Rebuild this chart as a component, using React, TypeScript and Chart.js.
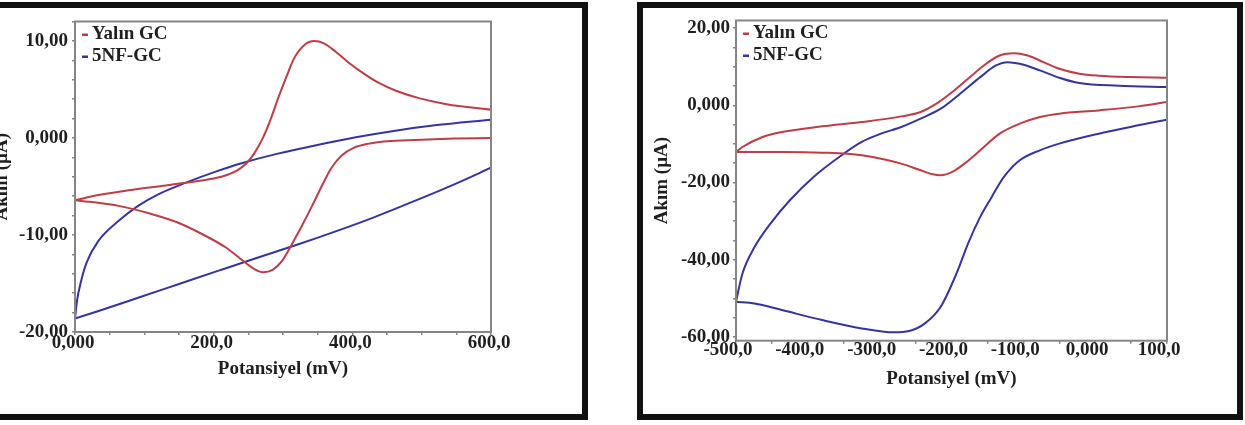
import React, { useEffect, useRef } from 'react';
import { Chart, registerables } from 'chart.js';

Chart.register(...registerables);

const SERIF = '"Liberation Serif", "Times New Roman", serif';
const RED = '#c23b45';
const BLUE = '#3434a2';
const INK = '#1f1f1f';
const AXIS_GRAY = '#858585';

const seriesNames = ['Yalın GC', '5NF-GC'];
const xTitle = 'Potansiyel (mV)';
const yTitle = 'Akım (µA)';

// ---- Left voltammogram: 0 → 600 mV ----
const leftBareFwdE = [0, 34, 80, 131, 177, 211, 234, 248, 259, 271, 282, 293, 305, 316, 331, 345, 359, 376, 393, 416, 439, 462, 496, 536, 600];
const leftBareFwdI = [-6.42, -5.88, -5.36, -4.89, -4.44, -4.0, -3.35, -2.56, -1.54, 0.0, 1.88, 4.1, 6.32, 8.2, 9.57, 9.98, 9.74, 8.88, 7.86, 6.66, 5.64, 4.89, 4.1, 3.48, 2.9];
const leftBareRevE = [600, 547, 490, 450, 422, 402, 385, 370, 356, 342, 328, 313, 299, 285, 271, 256, 239, 217, 188, 148, 108, 63, 28, 0];
const leftBareRevI = [0.0, -0.07, -0.2, -0.34, -0.61, -1.02, -1.78, -3.07, -4.95, -7.0, -8.95, -10.93, -12.64, -13.6, -13.84, -13.39, -12.47, -11.27, -10.08, -8.71, -7.79, -7.0, -6.63, -6.42];
const leftNfFwdE = [0, 3, 9, 17, 34, 63, 91, 120, 160, 205, 239, 291, 348, 405, 462, 519, 600];
const leftNfFwdI = [-18.62, -16.74, -14.69, -12.81, -10.59, -8.54, -7.0, -5.81, -4.61, -3.42, -2.63, -1.64, -0.75, 0.07, 0.75, 1.3, 1.88];
const leftNfRevE = [600, 547, 490, 433, 376, 319, 262, 205, 148, 91, 34, 0];
const leftNfRevI = [-3.07, -4.78, -6.49, -8.13, -9.63, -11.04, -12.37, -13.73, -15.1, -16.47, -17.83, -18.62];

// ---- Right voltammogram: -500 → 100 mV ----
const rightBareFwdE = [-500, -491, -463, -436, -380, -325, -270, -243, -221, -199, -177, -155, -133, -113, -94, -72, -50, -22, 5, 49, 100];
const rightBareFwdI = [-12.08, -10.79, -8.2, -6.9, -5.44, -4.32, -2.85, -1.73, 0.43, 3.45, 6.9, 10.35, 12.94, 13.54, 12.94, 11.21, 9.49, 8.2, 7.68, 7.33, 7.16];
const rightBareRevE = [100, 60, 5, -50, -77, -105, -133, -160, -182, -199, -215, -226, -243, -270, -325, -380, -436, -500];
const rightBareRevI = [0.86, -0.26, -1.3, -2.16, -3.02, -4.75, -7.34, -11.65, -15.1, -17.26, -18.12, -17.86, -16.83, -15.1, -12.94, -12.25, -12.08, -12.08];
const rightNfFwdE = [-500, -491, -474, -452, -425, -392, -353, -325, -298, -270, -243, -215, -188, -160, -138, -122, -105, -77, -50, -22, 33, 100];
const rightNfFwdI = [-50.9, -43.57, -36.67, -30.63, -24.59, -18.55, -12.94, -9.49, -7.34, -5.61, -3.45, -0.86, 3.02, 7.33, 10.35, 11.21, 10.78, 9.06, 7.16, 5.78, 5.09, 4.74];
const rightNfRevE = [100, 60, 5, -50, -77, -105, -127, -144, -160, -177, -193, -215, -237, -259, -281, -325, -380, -436, -474, -500];
const rightNfRevI = [-3.71, -5.18, -7.34, -9.92, -11.65, -14.24, -18.55, -23.73, -28.9, -35.81, -43.57, -52.2, -56.51, -58.5, -58.84, -57.81, -55.65, -53.06, -51.34, -50.9];

// ---- Tick labels ----
const leftXTickValues = [0, 200, 400, 600];
const leftXTickLabels = ['0,000', '200,0', '400,0', '600,0'];
const leftYTickValues = [-20, -10, 0, 10];
const leftYTickLabels = ['-20,00', '-10,00', '0,000', '10,00'];
const rightXTickValues = [-500, -400, -300, -200, -100, 0, 100];
const rightXTickLabels = ['-500,0', '-400,0', '-300,0', '-200,0', '-100,0', '0,000', '100,0'];
const rightYTickValues = [-60, -40, -20, 0, 20];
const rightYTickLabels = ['-60,00', '-40,00', '-20,00', '0,000', '20,00'];

type Branch = { label: string; color: string; e: number[]; i: number[] };

type PanelSpec = {
  branches: Branch[];
  x: { min: number; max: number; step: number; values: number[]; labels: string[]; labelOffset: number; labelPad: number; titlePad: number; height: number };
  y: { min: number; max: number; step: number; values: number[]; labels: string[]; labelPad: number; titlePad: number; width: number };
  padTop: number;
  padRight: number;
};

const leftPanel: PanelSpec = {
  branches: [
    { label: seriesNames[0], color: RED, e: leftBareFwdE, i: leftBareFwdI },
    { label: seriesNames[0], color: RED, e: leftBareRevE, i: leftBareRevI },
    { label: seriesNames[1], color: BLUE, e: leftNfFwdE, i: leftNfFwdI },
    { label: seriesNames[1], color: BLUE, e: leftNfRevE, i: leftNfRevI },
  ],
  x: { min: 0, max: 600, step: 50, values: leftXTickValues, labels: leftXTickLabels, labelOffset: -2, labelPad: -1, titlePad: 33.6, height: 82 },
  y: { min: -20, max: 12, step: 2, values: leftYTickValues, labels: leftYTickLabels, labelPad: 4, titlePad: 4.6, width: 89 },
  padTop: 12,
  padRight: 91,
};

const rightPanel: PanelSpec = {
  branches: [
    { label: seriesNames[0], color: RED, e: rightBareFwdE, i: rightBareFwdI },
    { label: seriesNames[0], color: RED, e: rightBareRevE, i: rightBareRevI },
    { label: seriesNames[1], color: BLUE, e: rightNfFwdE, i: rightNfFwdI },
    { label: seriesNames[1], color: BLUE, e: rightNfRevE, i: rightNfRevI },
  ],
  x: { min: -500, max: 100, step: 50, values: rightXTickValues, labels: rightXTickLabels, labelOffset: -8, labelPad: -3, titlePad: 23.6, height: 73.3 },
  y: { min: -61, max: 22, step: 5, values: rightYTickValues, labels: rightYTickLabels, labelPad: 3, titlePad: 7.6, width: 93 },
  padTop: 12,
  padRight: 70,
};

// Gray box around the plotting area
const plotFrame = {
  id: 'plotFrame',
  afterDatasetsDraw(chart: any) {
    const { ctx, chartArea: a } = chart;
    ctx.save();
    ctx.strokeStyle = AXIS_GRAY;
    ctx.lineWidth = 2;
    ctx.strokeRect(a.left, a.top, a.right - a.left, a.bottom - a.top);
    ctx.restore();
  },
};

// Legend drawn inside the top-left corner of the plot, one row per series
const insideLegend = {
  id: 'insideLegend',
  afterDraw(chart: any) {
    const { ctx, chartArea: a } = chart;
    const seen = new Set<string>();
    const items: { label: string; color: string }[] = [];
    chart.data.datasets.forEach((ds: any) => {
      if (!seen.has(ds.label)) {
        seen.add(ds.label);
        items.push({ label: ds.label, color: ds.borderColor });
      }
    });
    ctx.save();
    ctx.font = `bold 19px ${SERIF}`;
    ctx.textBaseline = 'middle';
    ctx.textAlign = 'left';
    items.forEach((it, k) => {
      const y = a.top + 13 + k * 22;
      ctx.fillStyle = it.color;
      ctx.fillRect(a.left + 7, y - 1, 6, 2.5);
      ctx.fillStyle = INK;
      ctx.fillText(it.label, a.left + 17, y);
    });
    ctx.restore();
  },
};

// Evenly spaced tick marks at every multiple of the step inside the axis range
const stepTicks = (step: number) => (scale: any) => {
  const out: { value: number }[] = [];
  const first = Math.ceil(scale.min / step - 1e-9);
  const last = Math.floor(scale.max / step + 1e-9);
  for (let k = first; k <= last; k++) out.push({ value: k * step });
  scale.ticks = out;
};

const labelFor = (values: number[], labels: string[]) => (v: any) => {
  const k = values.findIndex((x) => Math.abs(x - Number(v)) < 1e-6);
  return k >= 0 ? labels[k] : '';
};

const tickFont = { family: SERIF, size: 19, weight: 'bold' as const, lineHeight: 1 };
const titleFont = { family: SERIF, size: 19, weight: 'bold' as const, lineHeight: 1.2 };
const tickGrid = { display: true, drawOnChartArea: false, drawTicks: true, tickLength: 3, color: AXIS_GRAY, lineWidth: 1.5 };

function CvPanel({ spec, left, top, width, height }: { spec: PanelSpec; left: number; top: number; width: number; height: number }) {
  const ref = useRef<HTMLCanvasElement>(null);

  useEffect(() => {
    if (!ref.current) return;
    const chart = new Chart(ref.current, {
      type: 'scatter',
      data: {
        datasets: spec.branches.map((b) => ({
          label: b.label,
          data: b.e.map((x, k) => ({ x, y: b.i[k] })),
          borderColor: b.color,
          backgroundColor: b.color,
          showLine: true,
          pointRadius: 0,
          borderWidth: 2,
          cubicInterpolationMode: 'monotone' as const,
          fill: false,
        })),
      },
      options: {
        responsive: false,
        animation: false,
        events: [],
        layout: { padding: { left: 0, top: spec.padTop, right: spec.padRight, bottom: 0 } },
        plugins: { legend: { display: false }, tooltip: { enabled: false } },
        scales: {
          x: {
            type: 'linear',
            position: 'bottom',
            min: spec.x.min,
            max: spec.x.max,
            border: { display: false },
            grid: tickGrid,
            ticks: {
              autoSkip: false,
              maxRotation: 0,
              minRotation: 0,
              padding: spec.x.labelPad,
              labelOffset: spec.x.labelOffset,
              color: INK,
              font: tickFont,
              callback: labelFor(spec.x.values, spec.x.labels),
            },
            title: { display: true, text: xTitle, color: INK, font: titleFont, padding: { top: 0, bottom: spec.x.titlePad } },
            afterBuildTicks: stepTicks(spec.x.step),
            afterFit: (s: any) => {
              s.height = spec.x.height;
            },
          },
          y: {
            type: 'linear',
            position: 'left',
            min: spec.y.min,
            max: spec.y.max,
            border: { display: false },
            grid: tickGrid,
            ticks: {
              autoSkip: false,
              padding: spec.y.labelPad,
              color: INK,
              font: tickFont,
              callback: labelFor(spec.y.values, spec.y.labels),
            },
            title: { display: true, text: yTitle, color: INK, font: titleFont, padding: { top: spec.y.titlePad, bottom: 0 } },
            afterBuildTicks: stepTicks(spec.y.step),
            afterFit: (s: any) => {
              s.width = spec.y.width;
            },
          },
        },
      } as any,
      plugins: [plotFrame, insideLegend],
    });
    return () => chart.destroy();
  }, [spec]);

  return (
    <canvas
      ref={ref}
      width={width}
      height={height}
      style={{ position: 'absolute', left, top, width, height, display: 'block' }}
    />
  );
}

const frameStyle = (left: number, width: number): React.CSSProperties => ({
  position: 'absolute',
  left,
  top: 2,
  width,
  height: 418,
  border: '6px solid #111',
  boxSizing: 'border-box',
  background: '#fff',
});

export default function App() {
  return (
    <div
      style={{
        position: 'fixed',
        left: 0,
        top: 0,
        width: 1245,
        height: 425,
        background: '#fff',
        overflow: 'hidden',
      }}
    >
      <div style={frameStyle(-10, 598)} />
      <div style={frameStyle(637, 606)} />
      <CvPanel spec={leftPanel} left={-14} top={8} width={596} height={406} />
      <CvPanel spec={rightPanel} left={643} top={8} width={594} height={406} />
    </div>
  );
}
